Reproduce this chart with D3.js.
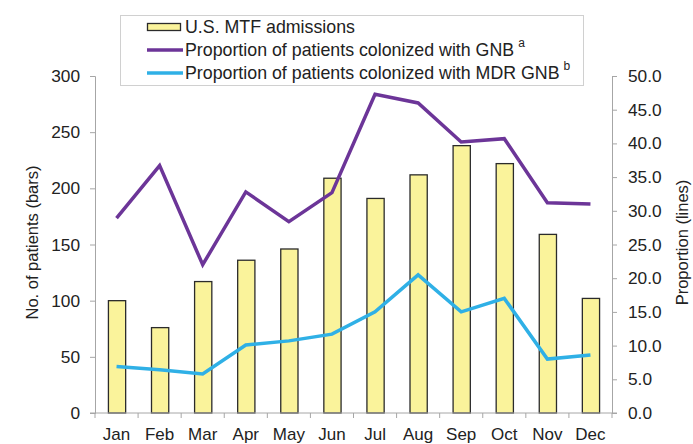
<!DOCTYPE html>
<html>
<head>
<meta charset="utf-8">
<script src="https://cdn.jsdelivr.net/npm/d3@7"></script>
<style>
  body { margin: 0; background: #fff; }
  svg { font-family: "Liberation Sans", Arial, sans-serif; }
</style>
</head>
<body>
<div id="chart"></div>
<script>
"use strict";

// Data
const months = ["Jan", "Feb", "Mar", "Apr", "May", "Jun", "Jul", "Aug", "Sep", "Oct", "Nov", "Dec"];
const admissions = [100, 76, 117, 136, 146, 209, 191, 212, 238, 222, 159, 102];
const gnbProportion = [28.9, 36.7, 22.0, 32.8, 28.4, 32.7, 47.3, 46.0, 40.2, 40.7, 31.2, 31.0];
const mdrProportion = [6.9, 6.4, 5.8, 10.1, 10.7, 11.7, 15.0, 20.5, 15.0, 17.0, 8.0, 8.6];
const leftTicks = [0, 50, 100, 150, 200, 250, 300];
const rightTicks = [0, 5, 10, 15, 20, 25, 30, 35, 40, 45, 50];

const width = 693, height = 444;
const margin = { top: 76, right: 81, bottom: 31, left: 95 };
const tickFont = 17.3;

const svg = d3.select("#chart").append("svg")
    .attr("width", width)
    .attr("height", height);

const xScale = d3.scaleBand()
    .domain(months)
    .range([margin.left, width - margin.right])
    .paddingInner(0.6)
    .paddingOuter(0.3);

// Band without padding, used for ticks at category boundaries
const xBand = d3.scaleBand()
    .domain(months)
    .range([margin.left, width - margin.right]);

const yLeft = d3.scaleLinear()
    .domain([0, 300])
    .range([height - margin.bottom, margin.top]);

const yRight = d3.scaleLinear()
    .domain([0, 50])
    .range([height - margin.bottom, margin.top]);

const axisColor = "#a6a6a6";

// Bars
svg.append("g")
    .selectAll("rect")
    .data(admissions)
    .join("rect")
    .attr("x", (d, i) => xScale(months[i]) + 0.5)
    .attr("y", d => yLeft(d))
    .attr("width", xScale.bandwidth())
    .attr("height", d => yLeft(0) - yLeft(d))
    .attr("fill", "#faf39b")
    .attr("stroke", "#2b2b2b")
    .attr("stroke-width", 1.3);

// Left axis
svg.append("g")
    .attr("transform", `translate(${margin.left},0)`)
    .call(d3.axisLeft(yLeft).tickValues(leftTicks).tickSize(5).tickPadding(10))
    .call(g => g.select(".domain").attr("stroke", axisColor))
    .call(g => g.selectAll(".tick line").attr("stroke", axisColor))
    .call(g => g.selectAll("text").attr("font-size", tickFont).attr("fill", "#222"));

// Right axis
const rightX = width - margin.right;
svg.append("g")
    .attr("transform", `translate(${rightX},0)`)
    .call(d3.axisRight(yRight).tickValues(rightTicks).tickSize(5).tickPadding(11).tickFormat(d3.format(".1f")))
    .call(g => g.select(".domain").attr("stroke", axisColor))
    .call(g => g.selectAll(".tick line").attr("stroke", axisColor))
    .call(g => g.selectAll("text").attr("font-size", tickFont).attr("fill", "#222"));

// X axis: line, boundary ticks and month labels
const xAxis = svg.append("g")
    .attr("transform", `translate(0,${height - margin.bottom})`);

xAxis.append("line")
    .attr("x1", margin.left - 5)
    .attr("x2", rightX + 5)
    .attr("stroke", axisColor);

xAxis.selectAll(".bound")
    .data(months.concat(["end"]))
    .join("line")
    .attr("class", "bound")
    .attr("x1", (d, i) => margin.left + i * xBand.bandwidth())
    .attr("x2", (d, i) => margin.left + i * xBand.bandwidth())
    .attr("y2", 5)
    .attr("stroke", axisColor);

xAxis.selectAll(".month")
    .data(months)
    .join("text")
    .attr("class", "month")
    .attr("x", d => xBand(d) + xBand.bandwidth() / 2)
    .attr("y", 27)
    .attr("text-anchor", "middle")
    .attr("font-size", 17)
    .attr("fill", "#222")
    .text(d => d);

// Lines
const line = d3.line()
    .x((d, i) => xBand(months[i]) + xBand.bandwidth() / 2)
    .y(d => yRight(d));

svg.append("path")
    .datum(gnbProportion)
    .attr("fill", "none")
    .attr("stroke", "#6c3598")
    .attr("stroke-width", 3.5)
    .attr("d", line);

svg.append("path")
    .datum(mdrProportion)
    .attr("fill", "none")
    .attr("stroke", "#2fb0e6")
    .attr("stroke-width", 3.5)
    .attr("d", line);

// Axis titles
svg.append("text")
    .attr("transform", `translate(38,${(margin.top + height - margin.bottom) / 2 - 2}) rotate(-90)`)
    .attr("text-anchor", "middle")
    .attr("font-size", 16.5)
    .attr("fill", "#222")
    .text("No. of patients (bars)");

svg.append("text")
    .attr("transform", `translate(688,${(margin.top + height - margin.bottom) / 2 - 2}) rotate(-90)`)
    .attr("text-anchor", "middle")
    .attr("font-size", 16.5)
    .attr("fill", "#222")
    .text("Proportion (lines)");

// Legend
const legend = svg.append("g");
legend.append("rect")
    .attr("x", 120.5).attr("y", 15.5)
    .attr("width", 463).attr("height", 70)
    .attr("fill", "#fff")
    .attr("stroke", "#d0d0d0");

const legendItems = [
    { type: "bar", label: "U.S. MTF admissions", sup: "" },
    { type: "line", color: "#6c3598", label: "Proportion of patients colonized with GNB", sup: "a" },
    { type: "line", color: "#2fb0e6", label: "Proportion of patients colonized with MDR GNB", sup: "b" }
];

const row = legend.selectAll(".item")
    .data(legendItems)
    .join("g")
    .attr("class", "item")
    .attr("transform", (d, i) => `translate(0,${27 + i * 23})`);

row.filter(d => d.type === "bar").append("rect")
    .attr("x", 147.5).attr("y", -3.5)
    .attr("width", 33).attr("height", 7)
    .attr("fill", "#faf39b")
    .attr("stroke", "#2b2b2b")
    .attr("stroke-width", 1.3);

row.filter(d => d.type === "line").append("line")
    .attr("x1", 147).attr("x2", 183)
    .attr("stroke", d => d.color)
    .attr("stroke-width", 3.5);

const label = row.append("text")
    .attr("x", 185)
    .attr("y", 6)
    .attr("font-size", 17.8)
    .attr("fill", "#222")
    .text(d => d.label);

label.append("tspan")
    .attr("dx", 4)
    .attr("dy", -9)
    .attr("font-size", 12)
    .text(d => d.sup);
</script>
</body>
</html>
